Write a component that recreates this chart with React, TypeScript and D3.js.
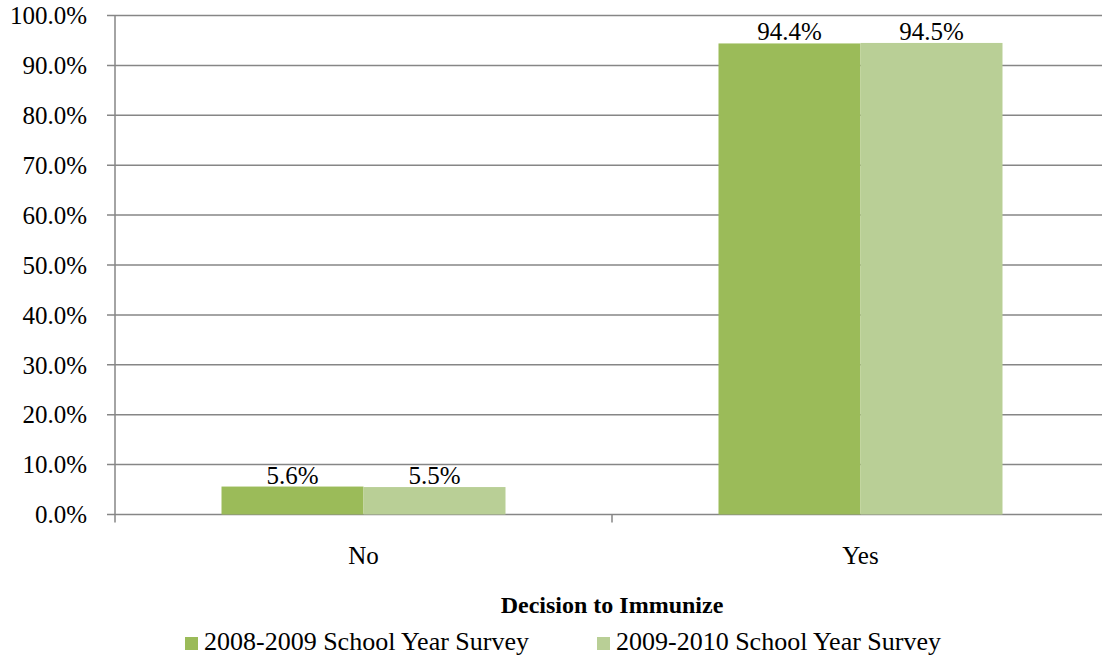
import React from "react";
import * as d3 from "d3";

const categories = ["No", "Yes"];
const seriesNames = ["2008-2009 School Year Survey", "2009-2010 School Year Survey"];
const series2008 = [5.6, 94.4];
const series2009 = [5.5, 94.5];
const yTicks = [0, 10, 20, 30, 40, 50, 60, 70, 80, 90, 100];
const colors = ["#9BBB59", "#B9CF96"];

const W = 1102;
const H = 657;
const left = 115;
const right = 1109;
const top = 15.5;
const bottom = 514.5;
const txt: React.CSSProperties = { fontFamily: '"Liberation Serif"' };

export default function App() {
  const values = [series2008, series2009];

  const x0 = d3.scaleBand().domain(categories).range([left, right]).padding(0);
  const x1 = d3
    .scaleBand()
    .domain(seriesNames)
    .range([0, x0.bandwidth()])
    .paddingInner(0)
    .paddingOuter(0.75);
  const y = d3.scaleLinear().domain([0, 100]).range([bottom, top]);

  const gridColor = "#868686";

  return (
    <svg width={W} height={H} style={{ position: "absolute", left: 0, top: 0 }}>
      {yTicks.map((t) => (
        <g key={t}>
          <line x1={left - 8} x2={W} y1={y(t)} y2={y(t)} stroke={gridColor} strokeWidth={1.5} />
          <text x={87} y={y(t)} dy="0.35em" textAnchor="end" fontSize={25} fill="#000" style={txt}>
            {d3.format(".1f")(t) + "%"}
          </text>
        </g>
      ))}
      <line x1={left} x2={left} y1={top} y2={bottom} stroke={gridColor} strokeWidth={1.5} />
      {[...categories.map((c) => x0(c) as number), right].map((v, i) => (
        <line key={i} x1={v} x2={v} y1={bottom} y2={bottom + 8} stroke={gridColor} strokeWidth={1.5} />
      ))}
      {categories.map((c, ci) => (
        <g key={c} transform={`translate(${x0(c)},0)`}>
          {seriesNames.map((s, si) => {
            const v = values[si][ci];
            const bx = x1(s) as number;
            return (
              <g key={s}>
                <rect x={bx} y={y(v)} width={x1.bandwidth()} height={bottom - y(v)} fill={colors[si]} />
                <text
                  x={bx + x1.bandwidth() / 2}
                  y={y(v) - 3}
                  textAnchor="middle"
                  fontSize={25}
                  fill="#000"
                  style={txt}
                >
                  {v.toFixed(1) + "%"}
                </text>
              </g>
            );
          })}
          <text x={x0.bandwidth() / 2} y={564} textAnchor="middle" fontSize={25} fill="#000" style={txt}>
            {c}
          </text>
        </g>
      ))}
      <text x={(left + right) / 2} y={613} textAnchor="middle" fontSize={24} fontWeight="bold" fill="#000" style={txt}>
        Decision to Immunize
      </text>
      {seriesNames.map((s, i) => {
        const lx = [185, 597][i];
        return (
          <g key={s}>
            <rect x={lx} y={637} width={13} height={13} fill={colors[i]} />
            <text x={lx + 19} y={650} fontSize={26} fill="#000" style={txt}>
              {s}
            </text>
          </g>
        );
      })}
    </svg>
  );
}
